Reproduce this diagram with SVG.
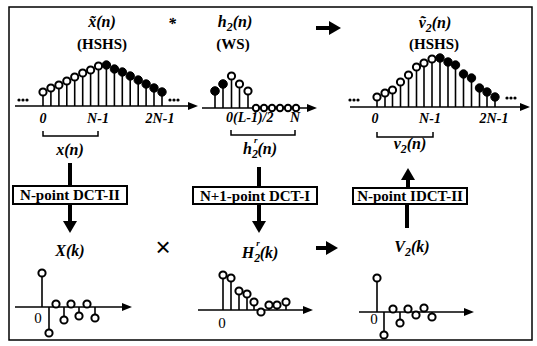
<svg xmlns="http://www.w3.org/2000/svg" width="537" height="346" viewBox="0 0 537 346" font-family="'Liberation Serif', 'Times New Roman', serif">
<style>
text{font-family:"Liberation Serif","Times New Roman",serif;fill:#000}
.lb{font-weight:bold;font-style:italic;font-size:16px;text-anchor:middle}
.tk{font-weight:bold;font-style:italic;font-size:14px;text-anchor:middle}
.md{font-weight:bold;font-size:15px;text-anchor:middle}
.bx{font-weight:bold;font-size:15px;text-anchor:middle}
.z{font-size:15px;text-anchor:middle}
.stem{stroke:#000;stroke-width:1.6}
.oc{fill:#fff;stroke:#000;stroke-width:2}
.fc{fill:#000;stroke:#000;stroke-width:1}
.axis{stroke:#000;stroke-width:1.6;fill:none}
.br{stroke:#000;stroke-width:1.5;fill:none}
.box{fill:#fff;stroke:#000;stroke-width:2}
.thick{stroke:#000;stroke-width:4}
.dot{fill:#000}
</style>
<defs>
<marker id="ax" markerUnits="userSpaceOnUse" markerWidth="10" markerHeight="8" refX="0" refY="4" orient="auto">
<path d="M0,0 L10,4 L0,8 z" fill="#000"/>
</marker>
<marker id="ah" markerUnits="userSpaceOnUse" markerWidth="12" markerHeight="14" refX="0" refY="7" orient="auto">
<path d="M0,0 L12,7 L0,14 z" fill="#000"/>
</marker>
</defs>
<rect x="9" y="7" width="523" height="333" fill="none" stroke="#000" stroke-width="1.5"/>

<g id="top-labels">
<text class="lb" x="102" y="27">x&#771;(n)</text>
<text class="md" x="102" y="49">(HSHS)</text>
<text class="lb" x="172" y="29">*</text>
<text class="lb" x="235" y="27">h<tspan dy="4" font-size="12">2</tspan><tspan dy="-4">(n)</tspan></text>
<text class="md" x="233" y="49">(WS)</text>
<text class="lb" x="435" y="28">v&#771;<tspan dy="4" font-size="12">2</tspan><tspan dy="-4">(n)</tspan></text>
<text class="md" x="434" y="49">(HSHS)</text>
</g>

<g id="plot-xtilde">
<line class="axis" x1="15" y1="106" x2="188" y2="106" marker-end="url(#ax)"/>
<circle class="dot" cx="19" cy="100" r="1.6"/><circle class="dot" cx="23" cy="100" r="1.6"/><circle class="dot" cx="27" cy="100" r="1.6"/>
<circle class="dot" cx="170" cy="100" r="1.6"/><circle class="dot" cx="174" cy="100" r="1.6"/><circle class="dot" cx="178" cy="100" r="1.6"/>
<line class="stem" x1="43" y1="106" x2="43" y2="92"/>
<line class="stem" x1="50.9" y1="106" x2="50.9" y2="88"/>
<line class="stem" x1="58.9" y1="106" x2="58.9" y2="85"/>
<line class="stem" x1="66.8" y1="106" x2="66.8" y2="81"/>
<line class="stem" x1="74.7" y1="106" x2="74.7" y2="77"/>
<line class="stem" x1="82.7" y1="106" x2="82.7" y2="73"/>
<line class="stem" x1="90.6" y1="106" x2="90.6" y2="70"/>
<line class="stem" x1="98.5" y1="106" x2="98.5" y2="66"/>
<line class="stem" x1="106.4" y1="106" x2="106.4" y2="65"/>
<line class="stem" x1="114.4" y1="106" x2="114.4" y2="69"/>
<line class="stem" x1="122.3" y1="106" x2="122.3" y2="72"/>
<line class="stem" x1="130.2" y1="106" x2="130.2" y2="76"/>
<line class="stem" x1="138.2" y1="106" x2="138.2" y2="80"/>
<line class="stem" x1="146.1" y1="106" x2="146.1" y2="84"/>
<line class="stem" x1="154" y1="106" x2="154" y2="88"/>
<line class="stem" x1="162" y1="106" x2="162" y2="92"/>
<circle class="oc" cx="43" cy="92" r="3.6"/>
<circle class="oc" cx="50.9" cy="88" r="3.6"/>
<circle class="oc" cx="58.9" cy="85" r="3.6"/>
<circle class="oc" cx="66.8" cy="81" r="3.6"/>
<circle class="oc" cx="74.7" cy="77" r="3.6"/>
<circle class="oc" cx="82.7" cy="73" r="3.6"/>
<circle class="oc" cx="90.6" cy="70" r="3.6"/>
<circle class="oc" cx="98.5" cy="66" r="3.6"/>
<circle class="fc" cx="106.4" cy="65" r="4.2"/>
<circle class="fc" cx="114.4" cy="69" r="4.2"/>
<circle class="fc" cx="122.3" cy="72" r="4.2"/>
<circle class="fc" cx="130.2" cy="76" r="4.2"/>
<circle class="fc" cx="138.2" cy="80" r="4.2"/>
<circle class="fc" cx="146.1" cy="84" r="4.2"/>
<circle class="fc" cx="154" cy="88" r="4.2"/>
<circle class="fc" cx="162" cy="92" r="4.2"/>
<text class="tk" x="43" y="123">0</text>
<text class="tk" x="98" y="123">N-1</text>
<text class="tk" x="160" y="123">2N-1</text>
<path class="br" d="M43,131 V136 H98 V131"/>
<text class="lb" x="70" y="155">x(n)</text>
</g>

<g id="plot-h2">
<line class="axis" x1="202" y1="108" x2="307" y2="108" marker-end="url(#ax)"/>
<line class="stem" x1="215" y1="108" x2="215" y2="91"/>
<line class="stem" x1="223" y1="108" x2="223" y2="84"/>
<line class="stem" x1="231.5" y1="108" x2="231.5" y2="76"/>
<line class="stem" x1="239.5" y1="108" x2="239.5" y2="84"/>
<line class="stem" x1="248" y1="108" x2="248" y2="91"/>
<circle class="fc" cx="215" cy="91" r="4.3"/>
<circle class="fc" cx="223" cy="84" r="4.3"/>
<circle class="oc" cx="231.5" cy="76" r="3.6"/>
<circle class="oc" cx="239.5" cy="84" r="3.6"/>
<circle class="oc" cx="248" cy="91" r="3.6"/>
<circle class="oc" cx="256" cy="108" r="3.2"/>
<circle class="oc" cx="264" cy="108" r="3.2"/>
<circle class="oc" cx="272" cy="108" r="3.2"/>
<circle class="oc" cx="280" cy="108" r="3.2"/>
<circle class="oc" cx="288" cy="108" r="3.2"/>
<circle class="oc" cx="296" cy="108" r="3.2"/>
<text class="tk" x="226" y="122" style="text-anchor:start">0(L-1)/2</text>
<text class="tk" x="295" y="122">N</text>
<path class="br" d="M231,130 V135 H295 V130"/>
<text class="lb" x="260" y="154">h<tspan dy="4" font-size="12">2</tspan><tspan dx="-4" dy="-15" font-size="9">r</tspan><tspan dy="11">(n)</tspan></text>
</g>

<g id="plot-v2tilde">
<line class="axis" x1="350" y1="107" x2="520" y2="107" marker-end="url(#ax)"/>
<circle class="dot" cx="350" cy="100" r="1.6"/><circle class="dot" cx="354" cy="100" r="1.6"/><circle class="dot" cx="358" cy="100" r="1.6"/>
<circle class="dot" cx="507" cy="98" r="1.6"/><circle class="dot" cx="511" cy="98" r="1.6"/><circle class="dot" cx="515" cy="98" r="1.6"/>
<line class="stem" x1="377" y1="107" x2="377" y2="97"/>
<line class="stem" x1="385" y1="107" x2="385" y2="93"/>
<line class="stem" x1="392.5" y1="107" x2="392.5" y2="90"/>
<line class="stem" x1="400.5" y1="107" x2="400.5" y2="82"/>
<line class="stem" x1="408.5" y1="107" x2="408.5" y2="75"/>
<line class="stem" x1="416.5" y1="107" x2="416.5" y2="67"/>
<line class="stem" x1="424" y1="107" x2="424" y2="63"/>
<line class="stem" x1="432" y1="107" x2="432" y2="59"/>
<line class="stem" x1="440" y1="107" x2="440" y2="58"/>
<line class="stem" x1="448" y1="107" x2="448" y2="62"/>
<line class="stem" x1="455.5" y1="107" x2="455.5" y2="65"/>
<line class="stem" x1="463.5" y1="107" x2="463.5" y2="74"/>
<line class="stem" x1="471.5" y1="107" x2="471.5" y2="78"/>
<line class="stem" x1="479.5" y1="107" x2="479.5" y2="88"/>
<line class="stem" x1="487" y1="107" x2="487" y2="92"/>
<line class="stem" x1="495" y1="107" x2="495" y2="97"/>
<circle class="oc" cx="377" cy="97" r="3.6"/>
<circle class="oc" cx="385" cy="93" r="3.6"/>
<circle class="oc" cx="392.5" cy="90" r="3.6"/>
<circle class="oc" cx="400.5" cy="82" r="3.6"/>
<circle class="oc" cx="408.5" cy="75" r="3.6"/>
<circle class="oc" cx="416.5" cy="67" r="3.6"/>
<circle class="oc" cx="424" cy="63" r="3.6"/>
<circle class="oc" cx="432" cy="59" r="3.6"/>
<circle class="fc" cx="440" cy="58" r="4.2"/>
<circle class="fc" cx="448" cy="62" r="4.2"/>
<circle class="fc" cx="455.5" cy="65" r="4.2"/>
<circle class="fc" cx="463.5" cy="74" r="4.2"/>
<circle class="fc" cx="471.5" cy="78" r="4.2"/>
<circle class="fc" cx="479.5" cy="88" r="4.2"/>
<circle class="fc" cx="487" cy="92" r="4.2"/>
<circle class="fc" cx="495" cy="97" r="4.2"/>
<text class="tk" x="375" y="123">0</text>
<text class="tk" x="430" y="123">N-1</text>
<text class="tk" x="494" y="123">2N-1</text>
<path class="br" d="M377,132 V137 H433 V132"/>
<text class="lb" x="410" y="149">v<tspan dy="4" font-size="12">2</tspan><tspan dy="-4">(n)</tspan></text>
</g>

<g id="box-dct2">
<rect class="box" x="13" y="186" width="114" height="18"/>
<text class="bx" x="70" y="200">N-point DCT-II</text>
</g>
<g id="box-dct1">
<rect class="box" x="193" y="187" width="124" height="17"/>
<text class="bx" x="255" y="200.5">N+1-point DCT-I</text>
</g>
<g id="box-idct2">
<rect class="box" x="353" y="188" width="114" height="16"/>
<text class="bx" x="410" y="200.5">N-point IDCT-II</text>
</g>

<g id="mid-labels">
<text class="lb" x="70" y="256">X(k)</text>
<text x="163" y="256" style="font-family:'Liberation Sans',Arial,sans-serif;font-size:26px;text-anchor:middle">×</text>
<text class="lb" x="260" y="258">H<tspan dy="4" font-size="12">2</tspan><tspan dx="-4" dy="-16" font-size="9">r</tspan><tspan dy="12">(k)</tspan></text>
<text class="lb" x="412" y="252">V<tspan dy="4" font-size="12">2</tspan><tspan dy="-4">(k)</tspan></text>
</g>

<g id="plot-Xk">
<line class="axis" x1="15" y1="307" x2="122" y2="307" marker-end="url(#ax)"/>
<line class="stem" x1="42" y1="307" x2="42" y2="273"/>
<line class="stem" x1="49" y1="307" x2="49" y2="333"/>
<line class="stem" x1="56" y1="307" x2="56" y2="304"/>
<line class="stem" x1="64" y1="307" x2="64" y2="320"/>
<line class="stem" x1="71" y1="307" x2="71" y2="304"/>
<line class="stem" x1="79" y1="307" x2="79" y2="316"/>
<line class="stem" x1="87" y1="307" x2="87" y2="304"/>
<line class="stem" x1="95" y1="307" x2="95" y2="318"/>
<circle class="oc" cx="42" cy="273" r="3.6"/>
<circle class="oc" cx="49" cy="333" r="3.6"/>
<circle class="oc" cx="56" cy="304" r="3.6"/>
<circle class="oc" cx="64" cy="320" r="3.6"/>
<circle class="oc" cx="71" cy="304" r="3.6"/>
<circle class="oc" cx="79" cy="316" r="3.6"/>
<circle class="oc" cx="87" cy="304" r="3.6"/>
<circle class="oc" cx="95" cy="318" r="3.6"/>
<text class="z" x="38" y="323">0</text>
</g>

<g id="plot-Hk">
<line class="axis" x1="198" y1="310" x2="303" y2="310" marker-end="url(#ax)"/>
<line class="stem" x1="223" y1="310" x2="223" y2="275"/>
<line class="stem" x1="231" y1="310" x2="231" y2="278"/>
<line class="stem" x1="239" y1="310" x2="239" y2="291"/>
<line class="stem" x1="247" y1="310" x2="247" y2="294"/>
<line class="stem" x1="254" y1="310" x2="254" y2="302"/>
<line class="stem" x1="269" y1="310" x2="269" y2="305"/>
<line class="stem" x1="277" y1="310" x2="277" y2="305"/>
<line class="stem" x1="286" y1="310" x2="286" y2="302"/>
<circle class="oc" cx="223" cy="275" r="3.6"/>
<circle class="oc" cx="231" cy="278" r="3.6"/>
<circle class="oc" cx="239" cy="291" r="3.6"/>
<circle class="oc" cx="247" cy="294" r="3.6"/>
<circle class="oc" cx="254" cy="302" r="3.6"/>
<circle class="oc" cx="261" cy="312" r="3.6"/>
<circle class="oc" cx="269" cy="305" r="3.6"/>
<circle class="oc" cx="277" cy="305" r="3.6"/>
<circle class="oc" cx="286" cy="302" r="3.6"/>
<text class="z" x="222" y="328">0</text>
</g>

<g id="plot-Vk">
<line class="axis" x1="359" y1="312" x2="464" y2="312" marker-end="url(#ax)"/>
<line class="stem" x1="377" y1="312" x2="377" y2="278"/>
<line class="stem" x1="384" y1="312" x2="384" y2="335"/>
<line class="stem" x1="393" y1="312" x2="393" y2="309"/>
<line class="stem" x1="400" y1="312" x2="400" y2="323"/>
<line class="stem" x1="408" y1="312" x2="408" y2="309"/>
<line class="stem" x1="416" y1="312" x2="416" y2="315"/>
<line class="stem" x1="424" y1="312" x2="424" y2="308"/>
<line class="stem" x1="432" y1="312" x2="432" y2="317"/>
<circle class="oc" cx="377" cy="278" r="3.6"/>
<circle class="oc" cx="384" cy="335" r="3.6"/>
<circle class="oc" cx="393" cy="309" r="3.6"/>
<circle class="oc" cx="400" cy="323" r="3.6"/>
<circle class="oc" cx="408" cy="309" r="3.6"/>
<circle class="oc" cx="416" cy="315" r="3.6"/>
<circle class="oc" cx="424" cy="308" r="3.6"/>
<circle class="oc" cx="432" cy="317" r="3.6"/>
<text class="z" x="374" y="324">0</text>
</g>

<g id="connectors">
<line class="thick" x1="316" y1="28" x2="329" y2="28" marker-end="url(#ah)"/>
<line class="thick" x1="316" y1="248" x2="326" y2="248" marker-end="url(#ah)"/>
<line class="thick" x1="70" y1="163" x2="70" y2="186"/>
<line class="thick" x1="70" y1="204" x2="70" y2="221" marker-end="url(#ah)"/>
<line class="thick" x1="259" y1="167" x2="259" y2="187"/>
<line class="thick" x1="259" y1="204" x2="259" y2="221" marker-end="url(#ah)"/>
<line class="thick" x1="407" y1="228" x2="407" y2="204"/>
<line class="thick" x1="408" y1="188" x2="408" y2="180" marker-end="url(#ah)"/>
</g>
</svg>
